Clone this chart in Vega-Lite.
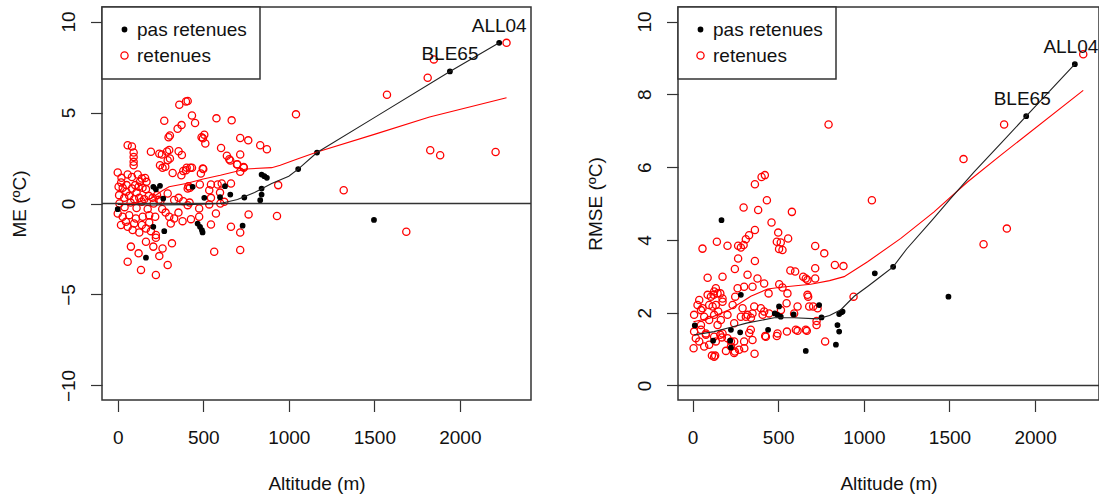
{
  "$schema": "https://vega.github.io/schema/vega-lite/v6.json",
  "background": "white",
  "padding": {"left": 9, "top": 5, "right": 1, "bottom": 0},
  "bounds": "flush",
  "spacing": 147,
  "config": {
    "font": "Liberation Sans",
    "view": {"stroke": "#333", "strokeWidth": 1.5},
    "axis": {"grid": false, "domain": false, "tickColor": "#333", "tickSize": 11.5, "tickWidth": 1.2,
      "labelFont": "Liberation Sans", "labelFontSize": 19, "labelColor": "#111",
      "titleFont": "Liberation Sans", "titleFontSize": 19, "titleFontWeight": "normal", "titleColor": "#111"},
    "axisX": {"labelPadding": 17, "titlePadding": 27, "labelAngle": 0, "format": "d"},
    "axisY": {"labelAngle": -90, "labelAlign": "center", "labelBaseline": "bottom", "labelPadding": 12, "titlePadding": 30},
    "legend": {"orient": "top-left", "offset": 0, "padding": 13, "strokeColor": "#333", "strokeWidth": 1.5, "fillColor": "white",
      "labelFont": "Liberation Sans", "labelFontSize": 19, "labelColor": "#111", "labelOffset": 3, "rowPadding": 6,
      "symbolStrokeWidth": 1.3, "labelLimit": 400}
  },
  "resolve": {
    "scale": {"x": "independent", "y": "independent", "fill": "independent", "stroke": "independent", "size": "independent"},
    "legend": {"fill": "independent", "stroke": "independent", "size": "independent"}
  },
  "datasets": {
    "me_pts": [
      {"alt":360,"val":5.43,"type":"retenues"},{"alt":399,"val":5.61,"type":"retenues"},{"alt":409,"val":5.63,"type":"retenues"},{"alt":434,"val":4.84,"type":"retenues"},{"alt":452,"val":4.42,"type":"retenues"},{"alt":272,"val":4.55,"type":"retenues"},{"alt":350,"val":4.11,"type":"retenues"},{"alt":373,"val":4.31,"type":"retenues"},{"alt":297,"val":3.64,"type":"retenues"},{"alt":305,"val":3.74,"type":"retenues"},{"alt":490,"val":3.64,"type":"retenues"},{"alt":506,"val":3.78,"type":"retenues"},{"alt":512,"val":3.3,"type":"retenues"},{"alt":498,"val":3.58,"type":"retenues"},{"alt":577,"val":4.68,"type":"retenues"},{"alt":666,"val":4.57,"type":"retenues"},{"alt":604,"val":3.05,"type":"retenues"},{"alt":58,"val":3.2,"type":"retenues"},{"alt":83,"val":3.13,"type":"retenues"},{"alt":93,"val":2.8,"type":"retenues"},{"alt":93,"val":2.56,"type":"retenues"},{"alt":93,"val":2.29,"type":"retenues"},{"alt":93,"val":2.1,"type":"retenues"},{"alt":194,"val":2.84,"type":"retenues"},{"alt":243,"val":2.74,"type":"retenues"},{"alt":258,"val":2.69,"type":"retenues"},{"alt":288,"val":2.86,"type":"retenues"},{"alt":301,"val":2.94,"type":"retenues"},{"alt":356,"val":2.87,"type":"retenues"},{"alt":375,"val":2.67,"type":"retenues"},{"alt":292,"val":2.38,"type":"retenues"},{"alt":305,"val":2.47,"type":"retenues"},{"alt":247,"val":2.1,"type":"retenues"},{"alt":262,"val":1.96,"type":"retenues"},{"alt":278,"val":2.02,"type":"retenues"},{"alt":321,"val":1.68,"type":"retenues"},{"alt":383,"val":1.79,"type":"retenues"},{"alt":399,"val":1.83,"type":"retenues"},{"alt":434,"val":1.97,"type":"retenues"},{"alt":500,"val":1.9,"type":"retenues"},{"alt":0,"val":1.7,"type":"retenues"},{"alt":22,"val":1.41,"type":"retenues"},{"alt":58,"val":1.6,"type":"retenues"},{"alt":83,"val":1.46,"type":"retenues"},{"alt":117,"val":1.59,"type":"retenues"},{"alt":141,"val":1.37,"type":"retenues"},{"alt":160,"val":1.4,"type":"retenues"},{"alt":168,"val":1.19,"type":"retenues"},{"alt":5,"val":0.92,"type":"retenues"},{"alt":29,"val":0.86,"type":"retenues"},{"alt":52,"val":1.01,"type":"retenues"},{"alt":83,"val":0.82,"type":"retenues"},{"alt":102,"val":1.01,"type":"retenues"},{"alt":122,"val":0.92,"type":"retenues"},{"alt":145,"val":0.86,"type":"retenues"},{"alt":165,"val":0.79,"type":"retenues"},{"alt":8,"val":0.46,"type":"retenues"},{"alt":38,"val":0.31,"type":"retenues"},{"alt":67,"val":0.42,"type":"retenues"},{"alt":96,"val":0.24,"type":"retenues"},{"alt":126,"val":0.31,"type":"retenues"},{"alt":155,"val":0.24,"type":"retenues"},{"alt":181,"val":0.42,"type":"retenues"},{"alt":204,"val":0.31,"type":"retenues"},{"alt":292,"val":0.55,"type":"retenues"},{"alt":330,"val":0.19,"type":"retenues"},{"alt":356,"val":0.31,"type":"retenues"},{"alt":383,"val":0.13,"type":"retenues"},{"alt":409,"val":0.82,"type":"retenues"},{"alt":422,"val":0.86,"type":"retenues"},{"alt":486,"val":1.65,"type":"retenues"},{"alt":535,"val":0.73,"type":"retenues"},{"alt":545,"val":0.31,"type":"retenues"},{"alt":584,"val":1.04,"type":"retenues"},{"alt":598,"val":0.6,"type":"retenues"},{"alt":623,"val":0.09,"type":"retenues"},{"alt":638,"val":2.62,"type":"retenues"},{"alt":652,"val":2.43,"type":"retenues"},{"alt":658,"val":2.36,"type":"retenues"},{"alt":716,"val":2.69,"type":"retenues"},{"alt":697,"val":2.14,"type":"retenues"},{"alt":716,"val":1.74,"type":"retenues"},{"alt":736,"val":2.01,"type":"retenues"},{"alt":716,"val":3.6,"type":"retenues"},{"alt":763,"val":3.47,"type":"retenues"},{"alt":833,"val":3.2,"type":"retenues"},{"alt":872,"val":2.98,"type":"retenues"},{"alt":662,"val":1.1,"type":"retenues"},{"alt":938,"val":1.01,"type":"retenues"},{"alt":1042,"val":4.9,"type":"retenues"},{"alt":1321,"val":0.73,"type":"retenues"},{"alt":1574,"val":5.98,"type":"retenues"},{"alt":1812,"val":6.91,"type":"retenues"},{"alt":1848,"val":7.92,"type":"retenues"},{"alt":1827,"val":2.93,"type":"retenues"},{"alt":1885,"val":2.65,"type":"retenues"},{"alt":2209,"val":2.83,"type":"retenues"},{"alt":2273,"val":8.83,"type":"retenues"},{"alt":1687,"val":-1.55,"type":"retenues"},{"alt":765,"val":-0.6,"type":"retenues"},{"alt":931,"val":-0.69,"type":"retenues"},{"alt":662,"val":-1.28,"type":"retenues"},{"alt":716,"val":-1.59,"type":"retenues"},{"alt":716,"val":-2.56,"type":"retenues"},{"alt":564,"val":-2.65,"type":"retenues"},{"alt":58,"val":-3.2,"type":"retenues"},{"alt":136,"val":-3.65,"type":"retenues"},{"alt":223,"val":-3.93,"type":"retenues"},{"alt":292,"val":-3.38,"type":"retenues"},{"alt":122,"val":-2.74,"type":"retenues"},{"alt":77,"val":-2.37,"type":"retenues"},{"alt":243,"val":-2.89,"type":"retenues"},{"alt":208,"val":-2.37,"type":"retenues"},{"alt":262,"val":-2.47,"type":"retenues"},{"alt":317,"val":-2.19,"type":"retenues"},{"alt":223,"val":-1.73,"type":"retenues"},{"alt":223,"val":-1.88,"type":"retenues"},{"alt":165,"val":-2.1,"type":"retenues"},{"alt":87,"val":-1.46,"type":"retenues"},{"alt":126,"val":-1.59,"type":"retenues"},{"alt":58,"val":-1.28,"type":"retenues"},{"alt":19,"val":-1.18,"type":"retenues"},{"alt":165,"val":-1.37,"type":"retenues"},{"alt":194,"val":-1.52,"type":"retenues"},{"alt":301,"val":-0.73,"type":"retenues"},{"alt":330,"val":-0.82,"type":"retenues"},{"alt":379,"val":-0.97,"type":"retenues"},{"alt":428,"val":-0.86,"type":"retenues"},{"alt":476,"val":-0.73,"type":"retenues"},{"alt":545,"val":-1.15,"type":"retenues"},{"alt":574,"val":-0.55,"type":"retenues"},{"alt":0,"val":-0.55,"type":"retenues"},{"alt":29,"val":-0.73,"type":"retenues"},{"alt":67,"val":-0.64,"type":"retenues"},{"alt":106,"val":-0.82,"type":"retenues"},{"alt":146,"val":-0.73,"type":"retenues"},{"alt":184,"val":-0.64,"type":"retenues"},{"alt":219,"val":-0.73,"type":"retenues"},{"alt":48,"val":-1.0,"type":"retenues"},{"alt":96,"val":-1.1,"type":"retenues"},{"alt":141,"val":-1.18,"type":"retenues"},{"alt":184,"val":-1.04,"type":"retenues"},{"alt":409,"val":-0.09,"type":"retenues"},{"alt":535,"val":-0.05,"type":"retenues"},{"alt":476,"val":-0.27,"type":"retenues"},{"alt":10,"val":0.0,"type":"retenues"},{"alt":40,"val":-0.2,"type":"retenues"},{"alt":75,"val":0.05,"type":"retenues"},{"alt":110,"val":-0.25,"type":"retenues"},{"alt":140,"val":0.1,"type":"retenues"},{"alt":175,"val":-0.3,"type":"retenues"},{"alt":210,"val":0.0,"type":"retenues"},{"alt":240,"val":0.2,"type":"retenues"},{"alt":260,"val":-0.3,"type":"retenues"},{"alt":20,"val":1.15,"type":"retenues"},{"alt":50,"val":0.65,"type":"retenues"},{"alt":110,"val":0.6,"type":"retenues"},{"alt":130,"val":1.2,"type":"retenues"},{"alt":230,"val":0.45,"type":"retenues"},{"alt":250,"val":0.15,"type":"retenues"},{"alt":600,"val":0.0,"type":"retenues"},{"alt":420,"val":0.05,"type":"retenues"},{"alt":355,"val":-0.5,"type":"retenues"},{"alt":310,"val":-1.1,"type":"retenues"},{"alt":280,"val":-0.5,"type":"retenues"},{"alt":413,"val":0.95,"type":"retenues"},{"alt":480,"val":1.04,"type":"retenues"},{"alt":545,"val":1.04,"type":"retenues"},{"alt":608,"val":1.1,"type":"retenues"},{"alt":372,"val":1.55,"type":"retenues"},{"alt":403,"val":1.97,"type":"retenues"},{"alt":424,"val":1.97,"type":"retenues"},{"alt":497,"val":1.92,"type":"retenues"},{"alt":737,"val":1.97,"type":"retenues"},{"alt":699,"val":2.16,"type":"retenues"},
      {"alt":0,"val":-0.31,"type":"pas retenues"},{"alt":165,"val":-2.98,"type":"pas retenues"},{"alt":208,"val":0.92,"type":"pas retenues"},{"alt":223,"val":0.79,"type":"pas retenues"},{"alt":247,"val":0.97,"type":"pas retenues"},{"alt":266,"val":0.27,"type":"pas retenues"},{"alt":438,"val":0.92,"type":"pas retenues"},{"alt":506,"val":0.31,"type":"pas retenues"},{"alt":598,"val":0.35,"type":"pas retenues"},{"alt":208,"val":-1.28,"type":"pas retenues"},{"alt":272,"val":-1.52,"type":"pas retenues"},{"alt":467,"val":-1.1,"type":"pas retenues"},{"alt":481,"val":-1.28,"type":"pas retenues"},{"alt":492,"val":-1.46,"type":"pas retenues"},{"alt":496,"val":-1.59,"type":"pas retenues"},{"alt":627,"val":0.95,"type":"pas retenues"},{"alt":658,"val":0.49,"type":"pas retenues"},{"alt":740,"val":0.33,"type":"pas retenues"},{"alt":841,"val":1.59,"type":"pas retenues"},{"alt":857,"val":1.5,"type":"pas retenues"},{"alt":872,"val":1.41,"type":"pas retenues"},{"alt":841,"val":0.82,"type":"pas retenues"},{"alt":841,"val":0.49,"type":"pas retenues"},{"alt":833,"val":0.18,"type":"pas retenues"},{"alt":1055,"val":1.89,"type":"pas retenues"},{"alt":1165,"val":2.8,"type":"pas retenues"},{"alt":730,"val":-1.22,"type":"pas retenues"},{"alt":1498,"val":-0.9,"type":"pas retenues"},{"alt":1942,"val":7.26,"type":"pas retenues"},{"alt":2230,"val":8.83,"type":"pas retenues"}
    ],
    "me_lines": [
      {"alt":0,"val":-0.05,"serie":"pas retenues"},{"alt":200,"val":-0.08,"serie":"pas retenues"},{"alt":400,"val":-0.06,"serie":"pas retenues"},{"alt":600,"val":0.0,"serie":"pas retenues"},{"alt":700,"val":0.22,"serie":"pas retenues"},{"alt":800,"val":0.6,"serie":"pas retenues"},{"alt":900,"val":1.1,"serie":"pas retenues"},{"alt":1000,"val":1.5,"serie":"pas retenues"},{"alt":1055,"val":1.89,"serie":"pas retenues"},{"alt":1165,"val":2.8,"serie":"pas retenues"},{"alt":1500,"val":4.72,"serie":"pas retenues"},{"alt":1942,"val":7.26,"serie":"pas retenues"},{"alt":2230,"val":8.83,"serie":"pas retenues"},
      {"alt":0,"val":-0.05,"serie":"retenues"},{"alt":100,"val":0.0,"serie":"retenues"},{"alt":200,"val":0.3,"serie":"retenues"},{"alt":260,"val":0.7,"serie":"retenues"},{"alt":300,"val":0.92,"serie":"retenues"},{"alt":400,"val":1.1,"serie":"retenues"},{"alt":500,"val":1.35,"serie":"retenues"},{"alt":600,"val":1.55,"serie":"retenues"},{"alt":750,"val":1.9,"serie":"retenues"},{"alt":900,"val":1.97,"serie":"retenues"},{"alt":950,"val":2.1,"serie":"retenues"},{"alt":1050,"val":2.45,"serie":"retenues"},{"alt":1170,"val":2.84,"serie":"retenues"},{"alt":1500,"val":3.8,"serie":"retenues"},{"alt":1823,"val":4.75,"serie":"retenues"},{"alt":2273,"val":5.81,"serie":"retenues"}
    ],
    "me_lab": [{"alt":2230,"val":8.83,"label":"ALL04"},{"alt":1942,"val":7.26,"label":"BLE65"}],
    "rmse_pts": [
      {"alt":364,"val":5.53,"type":"retenues"},{"alt":403,"val":5.73,"type":"retenues"},{"alt":422,"val":5.78,"type":"retenues"},{"alt":434,"val":5.09,"type":"retenues"},{"alt":298,"val":4.89,"type":"retenues"},{"alt":383,"val":4.82,"type":"retenues"},{"alt":580,"val":4.77,"type":"retenues"},{"alt":461,"val":4.48,"type":"retenues"},{"alt":364,"val":4.27,"type":"retenues"},{"alt":330,"val":4.13,"type":"retenues"},{"alt":311,"val":4.02,"type":"retenues"},{"alt":500,"val":4.2,"type":"retenues"},{"alt":558,"val":4.04,"type":"retenues"},{"alt":492,"val":3.95,"type":"retenues"},{"alt":515,"val":3.93,"type":"retenues"},{"alt":505,"val":3.75,"type":"retenues"},{"alt":525,"val":3.72,"type":"retenues"},{"alt":142,"val":3.95,"type":"retenues"},{"alt":204,"val":3.84,"type":"retenues"},{"alt":58,"val":3.76,"type":"retenues"},{"alt":266,"val":3.84,"type":"retenues"},{"alt":298,"val":3.86,"type":"retenues"},{"alt":282,"val":3.79,"type":"retenues"},{"alt":266,"val":3.49,"type":"retenues"},{"alt":364,"val":3.42,"type":"retenues"},{"alt":247,"val":3.2,"type":"retenues"},{"alt":794,"val":7.17,"type":"retenues"},{"alt":1582,"val":6.22,"type":"retenues"},{"alt":1819,"val":7.17,"type":"retenues"},{"alt":2281,"val":9.1,"type":"retenues"},{"alt":1699,"val":3.88,"type":"retenues"},{"alt":1835,"val":4.31,"type":"retenues"},{"alt":1047,"val":5.09,"type":"retenues"},{"alt":940,"val":2.44,"type":"retenues"},{"alt":716,"val":3.83,"type":"retenues"},{"alt":769,"val":3.63,"type":"retenues"},{"alt":716,"val":3.22,"type":"retenues"},{"alt":716,"val":2.94,"type":"retenues"},{"alt":831,"val":3.31,"type":"retenues"},{"alt":881,"val":3.28,"type":"retenues"},{"alt":571,"val":3.16,"type":"retenues"},{"alt":599,"val":3.13,"type":"retenues"},{"alt":646,"val":2.99,"type":"retenues"},{"alt":661,"val":2.94,"type":"retenues"},{"alt":671,"val":2.9,"type":"retenues"},{"alt":675,"val":2.44,"type":"retenues"},{"alt":704,"val":2.17,"type":"retenues"},{"alt":730,"val":2.12,"type":"retenues"},{"alt":724,"val":1.77,"type":"retenues"},{"alt":724,"val":1.66,"type":"retenues"},{"alt":774,"val":1.21,"type":"retenues"},{"alt":667,"val":1.5,"type":"retenues"},{"alt":613,"val":1.5,"type":"retenues"},{"alt":551,"val":1.48,"type":"retenues"},{"alt":492,"val":1.36,"type":"retenues"},{"alt":424,"val":1.36,"type":"retenues"},{"alt":362,"val":0.87,"type":"retenues"},{"alt":350,"val":1.25,"type":"retenues"},{"alt":331,"val":1.44,"type":"retenues"},{"alt":302,"val":1.02,"type":"retenues"},{"alt":247,"val":0.93,"type":"retenues"},{"alt":195,"val":0.95,"type":"retenues"},{"alt":113,"val":0.82,"type":"retenues"},{"alt":132,"val":0.82,"type":"retenues"},{"alt":6,"val":1.02,"type":"retenues"},{"alt":39,"val":2.35,"type":"retenues"},{"alt":506,"val":2.78,"type":"retenues"},{"alt":525,"val":2.69,"type":"retenues"},{"alt":549,"val":2.26,"type":"retenues"},{"alt":516,"val":2.07,"type":"retenues"},{"alt":593,"val":1.98,"type":"retenues"},{"alt":444,"val":2.53,"type":"retenues"},{"alt":399,"val":2.12,"type":"retenues"},{"alt":418,"val":2.03,"type":"retenues"},{"alt":360,"val":2.17,"type":"retenues"},{"alt":311,"val":1.89,"type":"retenues"},{"alt":341,"val":1.86,"type":"retenues"},{"alt":263,"val":2.67,"type":"retenues"},{"alt":249,"val":2.44,"type":"retenues"},{"alt":234,"val":2.21,"type":"retenues"},{"alt":88,"val":2.49,"type":"retenues"},{"alt":107,"val":2.44,"type":"retenues"},{"alt":123,"val":2.49,"type":"retenues"},{"alt":126,"val":2.58,"type":"retenues"},{"alt":136,"val":2.67,"type":"retenues"},{"alt":162,"val":2.53,"type":"retenues"},{"alt":175,"val":2.3,"type":"retenues"},{"alt":49,"val":2.07,"type":"retenues"},{"alt":117,"val":2.17,"type":"retenues"},{"alt":150,"val":2.03,"type":"retenues"},{"alt":204,"val":1.94,"type":"retenues"},{"alt":243,"val":1.71,"type":"retenues"},{"alt":282,"val":1.89,"type":"retenues"},{"alt":49,"val":1.53,"type":"retenues"},{"alt":78,"val":1.39,"type":"retenues"},{"alt":19,"val":1.3,"type":"retenues"},{"alt":39,"val":1.21,"type":"retenues"},{"alt":162,"val":1.39,"type":"retenues"},{"alt":171,"val":1.32,"type":"retenues"},{"alt":204,"val":1.3,"type":"retenues"},{"alt":224,"val":1.21,"type":"retenues"},{"alt":97,"val":1.12,"type":"retenues"},{"alt":68,"val":1.07,"type":"retenues"},{"alt":9,"val":1.94,"type":"retenues"},{"alt":68,"val":1.89,"type":"retenues"},{"alt":97,"val":1.8,"type":"retenues"},{"alt":126,"val":1.94,"type":"retenues"},{"alt":146,"val":1.66,"type":"retenues"},{"alt":165,"val":1.8,"type":"retenues"},{"alt":49,"val":1.66,"type":"retenues"},{"alt":9,"val":1.48,"type":"retenues"},{"alt":78,"val":1.43,"type":"retenues"},{"alt":126,"val":1.34,"type":"retenues"},{"alt":175,"val":1.43,"type":"retenues"},{"alt":136,"val":1.21,"type":"retenues"},{"alt":224,"val":1.07,"type":"retenues"},{"alt":243,"val":1.21,"type":"retenues"},{"alt":272,"val":0.98,"type":"retenues"},{"alt":88,"val":2.96,"type":"retenues"},{"alt":175,"val":2.99,"type":"retenues"},{"alt":321,"val":3.04,"type":"retenues"},{"alt":350,"val":2.71,"type":"retenues"},{"alt":379,"val":2.94,"type":"retenues"},{"alt":418,"val":2.8,"type":"retenues"},{"alt":301,"val":2.71,"type":"retenues"},{"alt":146,"val":2.53,"type":"retenues"},{"alt":175,"val":2.39,"type":"retenues"},{"alt":29,"val":2.21,"type":"retenues"},{"alt":97,"val":2.21,"type":"retenues"},{"alt":136,"val":2.21,"type":"retenues"},{"alt":58,"val":2.12,"type":"retenues"},{"alt":292,"val":2.12,"type":"retenues"},{"alt":321,"val":1.94,"type":"retenues"},{"alt":350,"val":1.98,"type":"retenues"},{"alt":409,"val":1.94,"type":"retenues"},{"alt":447,"val":1.98,"type":"retenues"},{"alt":554,"val":2.53,"type":"retenues"},{"alt":613,"val":2.17,"type":"retenues"},{"alt":671,"val":2.49,"type":"retenues"},{"alt":681,"val":2.17,"type":"retenues"},{"alt":340,"val":1.53,"type":"retenues"},{"alt":428,"val":1.34,"type":"retenues"},{"alt":496,"val":1.43,"type":"retenues"},{"alt":603,"val":1.53,"type":"retenues"},{"alt":661,"val":1.53,"type":"retenues"},{"alt":243,"val":0.89,"type":"retenues"},{"alt":301,"val":1.21,"type":"retenues"},{"alt":126,"val":0.79,"type":"retenues"},
      {"alt":13,"val":1.65,"type":"pas retenues"},{"alt":169,"val":4.54,"type":"pas retenues"},{"alt":120,"val":1.23,"type":"pas retenues"},{"alt":224,"val":1.53,"type":"pas retenues"},{"alt":220,"val":1.23,"type":"pas retenues"},{"alt":224,"val":1.04,"type":"pas retenues"},{"alt":278,"val":1.46,"type":"pas retenues"},{"alt":282,"val":2.49,"type":"pas retenues"},{"alt":441,"val":1.53,"type":"pas retenues"},{"alt":480,"val":1.98,"type":"pas retenues"},{"alt":496,"val":1.94,"type":"pas retenues"},{"alt":505,"val":2.17,"type":"pas retenues"},{"alt":515,"val":1.89,"type":"pas retenues"},{"alt":590,"val":1.95,"type":"pas retenues"},{"alt":661,"val":0.95,"type":"pas retenues"},{"alt":739,"val":2.21,"type":"pas retenues"},{"alt":753,"val":1.87,"type":"pas retenues"},{"alt":846,"val":1.66,"type":"pas retenues"},{"alt":856,"val":1.48,"type":"pas retenues"},{"alt":837,"val":1.12,"type":"pas retenues"},{"alt":856,"val":1.96,"type":"pas retenues"},{"alt":869,"val":2.01,"type":"pas retenues"},{"alt":876,"val":2.03,"type":"pas retenues"},{"alt":1064,"val":3.08,"type":"pas retenues"},{"alt":1171,"val":3.26,"type":"pas retenues"},{"alt":1494,"val":2.44,"type":"pas retenues"},{"alt":1948,"val":7.4,"type":"pas retenues"},{"alt":2232,"val":8.83,"type":"pas retenues"}
    ],
    "rmse_lines": [
      {"alt":10,"val":1.39,"serie":"pas retenues"},{"alt":126,"val":1.48,"serie":"pas retenues"},{"alt":224,"val":1.6,"serie":"pas retenues"},{"alt":321,"val":1.72,"serie":"pas retenues"},{"alt":477,"val":1.86,"serie":"pas retenues"},{"alt":593,"val":1.86,"serie":"pas retenues"},{"alt":730,"val":1.83,"serie":"pas retenues"},{"alt":800,"val":1.92,"serie":"pas retenues"},{"alt":866,"val":2.08,"serie":"pas retenues"},{"alt":944,"val":2.45,"serie":"pas retenues"},{"alt":1022,"val":2.72,"serie":"pas retenues"},{"alt":1100,"val":3.0,"serie":"pas retenues"},{"alt":1171,"val":3.26,"serie":"pas retenues"},{"alt":1250,"val":3.75,"serie":"pas retenues"},{"alt":1400,"val":4.55,"serie":"pas retenues"},{"alt":1500,"val":5.1,"serie":"pas retenues"},{"alt":1644,"val":5.87,"serie":"pas retenues"},{"alt":1800,"val":6.65,"serie":"pas retenues"},{"alt":1948,"val":7.4,"serie":"pas retenues"},{"alt":2232,"val":8.83,"serie":"pas retenues"},
      {"alt":5,"val":1.75,"serie":"retenues"},{"alt":100,"val":1.85,"serie":"retenues"},{"alt":224,"val":2.1,"serie":"retenues"},{"alt":340,"val":2.45,"serie":"retenues"},{"alt":438,"val":2.65,"serie":"retenues"},{"alt":515,"val":2.7,"serie":"retenues"},{"alt":690,"val":2.78,"serie":"retenues"},{"alt":800,"val":2.88,"serie":"retenues"},{"alt":885,"val":2.99,"serie":"retenues"},{"alt":1022,"val":3.4,"serie":"retenues"},{"alt":1216,"val":4.04,"serie":"retenues"},{"alt":1410,"val":4.77,"serie":"retenues"},{"alt":1605,"val":5.59,"serie":"retenues"},{"alt":1800,"val":6.33,"serie":"retenues"},{"alt":2281,"val":8.11,"serie":"retenues"}
    ],
    "rmse_lab": [{"alt":2232,"val":8.83,"label":"ALL04"},{"alt":1948,"val":7.4,"label":"BLE65"}],
    "zero": [{"val":0}]
  },
  "hconcat": [
    {
      "width": 429, "height": 393,
      "layer": [
        {
          "data": {"name": "me_pts"},
          "mark": {"type": "point", "shape": "circle", "strokeWidth": 1.3, "opacity": 1},
          "encoding": {
            "x": {"field": "alt", "type": "quantitative", "scale": {"domain": [-92, 2416], "nice": false, "zero": false},
              "axis": {"values": [0, 500, 1000, 1500, 2000], "title": "Altitude (m)"}},
            "y": {"field": "val", "type": "quantitative", "scale": {"domain": [-10.8, 10.8], "nice": false, "zero": false},
              "axis": {"values": [-10, -5, 0, 5, 10], "title": "ME (ºC)"}},
            "fill": {"field": "type", "type": "nominal", "scale": {"domain": ["pas retenues", "retenues"], "range": ["black", "transparent"]}, "legend": {"title": null}},
            "stroke": {"field": "type", "type": "nominal", "scale": {"domain": ["pas retenues", "retenues"], "range": ["black", "#ff0000"]}, "legend": {"title": null}},
            "size": {"field": "type", "type": "nominal", "scale": {"type": "point", "domain": ["pas retenues", "retenues"], "range": [20, 52]}, "legend": {"title": null}}
          }
        },
        {
          "data": {"name": "zero"},
          "mark": {"type": "rule", "color": "#333", "strokeWidth": 1.5},
          "encoding": {"y": {"field": "val", "type": "quantitative", "scale": {"domain": [-10.8, 10.8], "nice": false, "zero": false}}}
        },
        {
          "data": {"name": "me_lines"},
          "transform": [{"filter": "datum.serie === 'retenues'"}],
          "mark": {"type": "line", "color": "#ff0000", "strokeWidth": 1.1},
          "encoding": {
            "x": {"field": "alt", "type": "quantitative", "scale": {"domain": [-92, 2416], "nice": false, "zero": false}},
            "y": {"field": "val", "type": "quantitative", "scale": {"domain": [-10.8, 10.8], "nice": false, "zero": false}}
          }
        },
        {
          "data": {"name": "me_lines"},
          "transform": [{"filter": "datum.serie === 'pas retenues'"}],
          "mark": {"type": "line", "color": "#222", "strokeWidth": 1.1},
          "encoding": {
            "x": {"field": "alt", "type": "quantitative", "scale": {"domain": [-92, 2416], "nice": false, "zero": false}},
            "y": {"field": "val", "type": "quantitative", "scale": {"domain": [-10.8, 10.8], "nice": false, "zero": false}}
          }
        },
        {
          "data": {"name": "me_lab"},
          "mark": {"type": "text", "dy": -11, "baseline": "alphabetic", "align": "center", "fontSize": 19, "font": "Liberation Sans", "color": "#111"},
          "encoding": {
            "x": {"field": "alt", "type": "quantitative", "scale": {"domain": [-92, 2416], "nice": false, "zero": false}},
            "y": {"field": "val", "type": "quantitative", "scale": {"domain": [-10.8, 10.8], "nice": false, "zero": false}},
            "text": {"field": "label"}
          }
        }
      ]
    },
    {
      "width": 421, "height": 393,
      "layer": [
        {
          "data": {"name": "rmse_pts"},
          "mark": {"type": "point", "shape": "circle", "strokeWidth": 1.3, "opacity": 1},
          "encoding": {
            "x": {"field": "alt", "type": "quantitative", "scale": {"domain": [-85, 2373], "nice": false, "zero": false},
              "axis": {"values": [0, 500, 1000, 1500, 2000], "title": "Altitude (m)"}},
            "y": {"field": "val", "type": "quantitative", "scale": {"domain": [-0.4, 10.4], "nice": false, "zero": false},
              "axis": {"values": [0, 2, 4, 6, 8, 10], "title": "RMSE (ºC)"}},
            "fill": {"field": "type", "type": "nominal", "scale": {"domain": ["pas retenues", "retenues"], "range": ["black", "transparent"]}, "legend": {"title": null}},
            "stroke": {"field": "type", "type": "nominal", "scale": {"domain": ["pas retenues", "retenues"], "range": ["black", "#ff0000"]}, "legend": {"title": null}},
            "size": {"field": "type", "type": "nominal", "scale": {"type": "point", "domain": ["pas retenues", "retenues"], "range": [20, 52]}, "legend": {"title": null}}
          }
        },
        {
          "data": {"name": "zero"},
          "mark": {"type": "rule", "color": "#333", "strokeWidth": 1.5},
          "encoding": {"y": {"field": "val", "type": "quantitative", "scale": {"domain": [-0.4, 10.4], "nice": false, "zero": false}}}
        },
        {
          "data": {"name": "rmse_lines"},
          "transform": [{"filter": "datum.serie === 'retenues'"}],
          "mark": {"type": "line", "color": "#ff0000", "strokeWidth": 1.1},
          "encoding": {
            "x": {"field": "alt", "type": "quantitative", "scale": {"domain": [-85, 2373], "nice": false, "zero": false}},
            "y": {"field": "val", "type": "quantitative", "scale": {"domain": [-0.4, 10.4], "nice": false, "zero": false}}
          }
        },
        {
          "data": {"name": "rmse_lines"},
          "transform": [{"filter": "datum.serie === 'pas retenues'"}],
          "mark": {"type": "line", "color": "#222", "strokeWidth": 1.1},
          "encoding": {
            "x": {"field": "alt", "type": "quantitative", "scale": {"domain": [-85, 2373], "nice": false, "zero": false}},
            "y": {"field": "val", "type": "quantitative", "scale": {"domain": [-0.4, 10.4], "nice": false, "zero": false}}
          }
        },
        {
          "data": {"name": "rmse_lab"},
          "mark": {"type": "text", "dy": -11, "dx": -4, "baseline": "alphabetic", "align": "center", "fontSize": 19, "font": "Liberation Sans", "color": "#111"},
          "encoding": {
            "x": {"field": "alt", "type": "quantitative", "scale": {"domain": [-85, 2373], "nice": false, "zero": false}},
            "y": {"field": "val", "type": "quantitative", "scale": {"domain": [-0.4, 10.4], "nice": false, "zero": false}},
            "text": {"field": "label"}
          }
        }
      ]
    }
  ]
}
